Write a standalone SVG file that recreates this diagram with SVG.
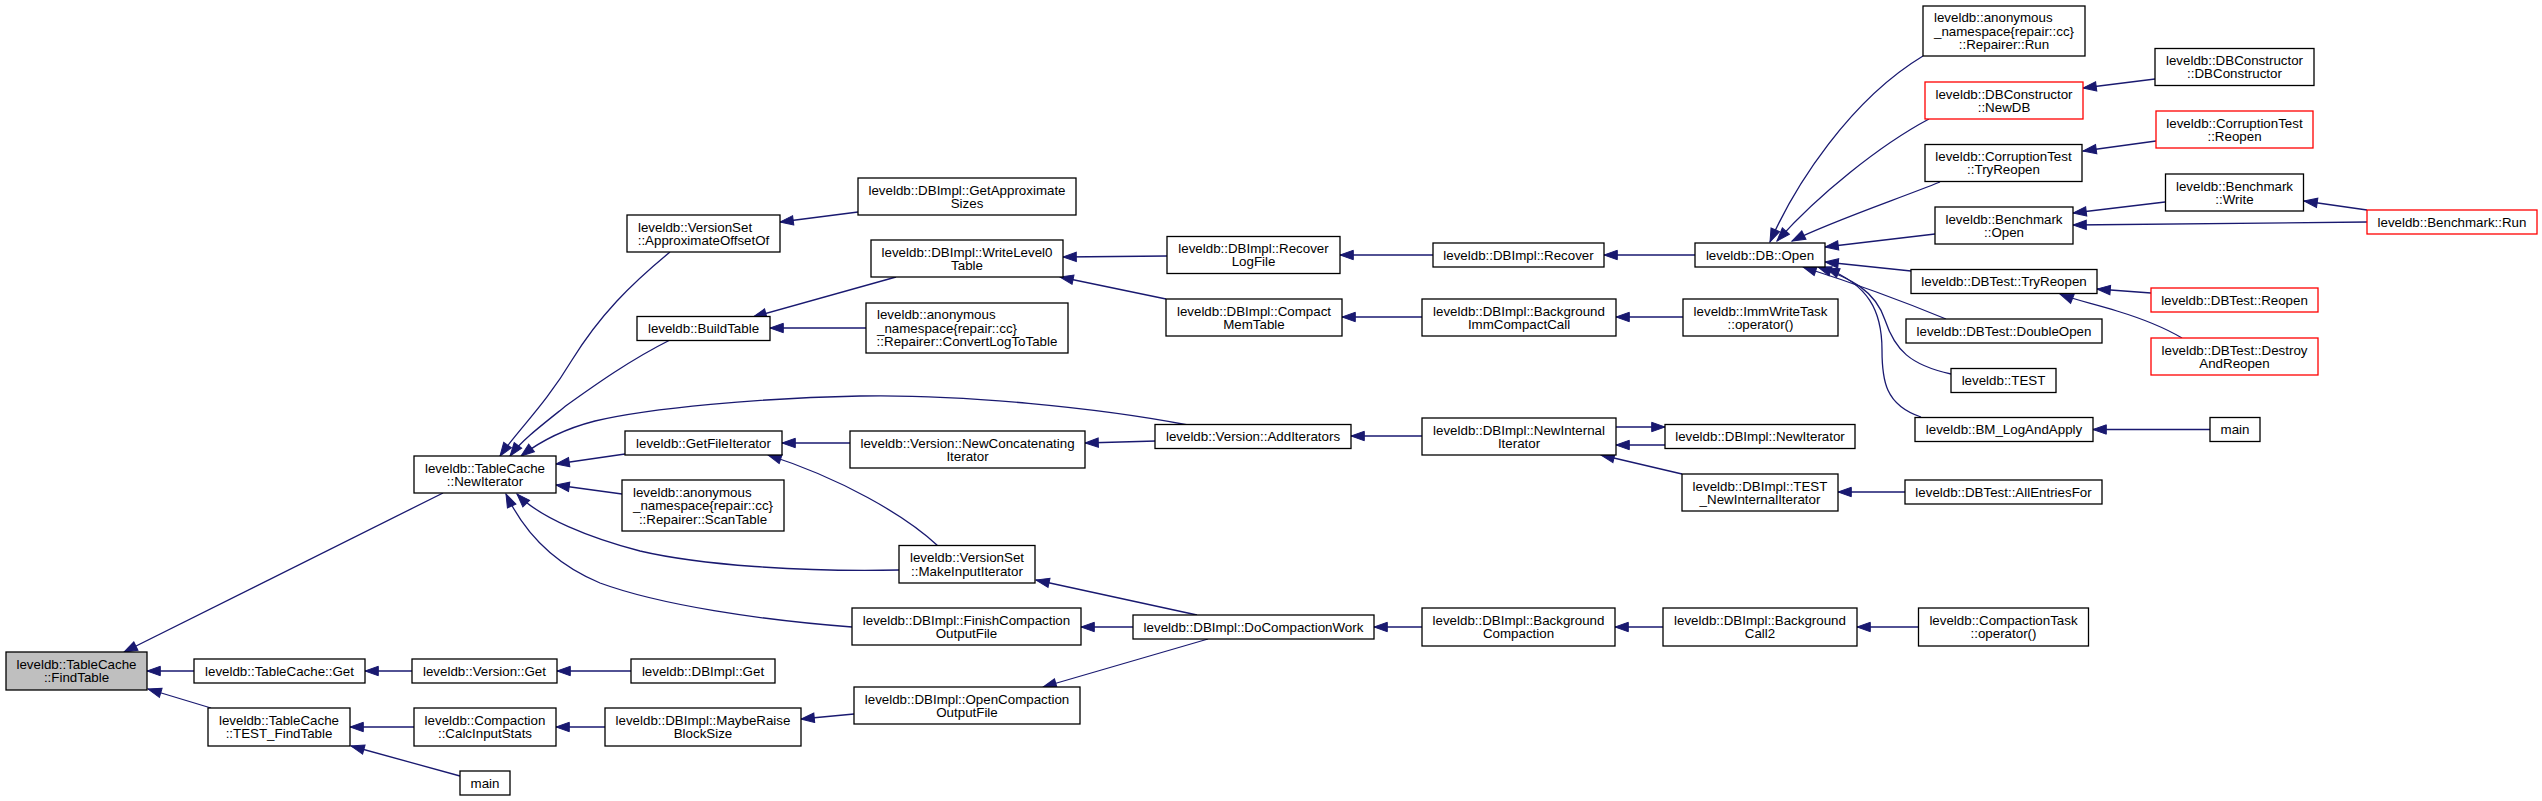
<svg xmlns="http://www.w3.org/2000/svg" width="2542" height="801" viewBox="0 0 2542 801">
<style>
.n rect{fill:#ffffff;stroke:#000000;stroke-width:1.3}
.r rect{stroke:#ff0000}
.g rect{fill:#bfbfbf}
text{font-family:"Liberation Sans",Arial,Helvetica,sans-serif;font-size:13.33px;fill:#000000;text-anchor:middle}
text.s{text-anchor:start}
#edges path{fill:none;stroke:#191970;stroke-width:1.3;marker-end:url(#ah)}
</style>
<defs>
<marker id="ah" markerUnits="userSpaceOnUse" markerWidth="14" markerHeight="10" refX="13.3" refY="4.7" orient="auto" overflow="visible">
<path d="M0,0 L13.3,4.7 L0,9.4 z" fill="#191970" stroke="#191970" stroke-width="1"/>
</marker>
</defs>
<rect width="2542" height="801" fill="#ffffff"/>
<g id="edges">
<path d="M443,493 L124,652"/>
<path d="M194,671 L147,671"/>
<path d="M211,708 L148,689"/>
<path d="M412,671 L365,671"/>
<path d="M631,671 L557,671"/>
<path d="M414,727 L350,727"/>
<path d="M460,776 L351,746"/>
<path d="M605,727 L556,727"/>
<path d="M854,714 L801,719"/>
<path d="M1208,639 L1043,687"/>
<path d="M1133,627 L1081,627"/>
<path d="M1197,615 L1036,580"/>
<path d="M1422,627 L1374,627"/>
<path d="M1663,627 L1615,627"/>
<path d="M1918,627 L1857,627"/>
<path d="M625,454 L556,464"/>
<path d="M622,494 L556,485"/>
<path d="M899,570 C800,572 700,565 640,551 C590,538 540,518 517,494"/>
<path d="M852,627 C760,620 660,605 600,583 C552,563 523,530 506,494"/>
<path d="M938,546 C905,515 840,478 768,455"/>
<path d="M850,443 L782,443"/>
<path d="M1156,441 L1085,443"/>
<path d="M1188,425 C1100,408 960,394 860,396 C760,398 650,408 595,421 C560,430 538,443 521,456"/>
<path d="M670,252 C630,285 600,315 572,360 C545,405 518,430 500,456"/>
<path d="M670,340 C630,360 595,385 567,405 C542,425 522,440 510,456"/>
<path d="M858,212 L780,222"/>
<path d="M896,277 L753,317"/>
<path d="M866,328 L770,328"/>
<path d="M1167,256 L1063,257"/>
<path d="M1166,299 L1060,277"/>
<path d="M1433,255 L1340,255"/>
<path d="M1422,317 L1342,317"/>
<path d="M1695,255 L1604,255"/>
<path d="M1683,317 L1616,317"/>
<path d="M1422,436 L1351,436"/>
<path d="M1616,427 L1665,427"/>
<path d="M1665,445 L1616,445"/>
<path d="M1682,474 L1601,455"/>
<path d="M1905,492 L1838,492"/>
<path d="M1923,56 C1850,100 1795,185 1770,242"/>
<path d="M1929,119 C1880,145 1818,195 1777,241"/>
<path d="M1940,182 C1895,200 1830,222 1792,241"/>
<path d="M1935,234 L1825,247"/>
<path d="M1911,271 L1825,262"/>
<path d="M1946,319 C1900,300 1850,282 1803,267"/>
<path d="M1951,374 C1910,365 1895,350 1885,320 C1875,290 1850,278 1818,267"/>
<path d="M1921,417 C1885,405 1882,380 1882,350 C1882,310 1868,285 1826,268"/>
<path d="M2155,79 L2083,88"/>
<path d="M2156,141 L2083,151"/>
<path d="M2165,202 L2073,213"/>
<path d="M2367,210 L2304,201"/>
<path d="M2367,222 L2073,225"/>
<path d="M2151,293 L2097,289"/>
<path d="M2182,338 C2160,325 2140,318 2117,311 C2095,304 2075,300 2060,294"/>
<path d="M2210,429.5 L2093,429.5"/>
</g>
<g id="n1" class="n g"><rect x="6" y="652" width="141" height="38"/><text x="76.5" y="669">leveldb::TableCache</text><text x="76.5" y="682.3">::FindTable</text></g>
<g id="n2" class="n"><rect x="414" y="456" width="142" height="37"/><text x="485" y="472.5">leveldb::TableCache</text><text x="485" y="485.8">::NewIterator</text></g>
<g id="n3" class="n"><rect x="194" y="659" width="171" height="24"/><text x="279.5" y="675.7">leveldb::TableCache::Get</text></g>
<g id="n4" class="n"><rect x="208" y="708" width="142" height="38"/><text x="279" y="725">leveldb::TableCache</text><text x="279" y="738.3">::TEST_FindTable</text></g>
<g id="n5" class="n"><rect x="627" y="215" width="153" height="37"/><text class="s" x="638" y="231.5">leveldb::VersionSet</text><text x="703.5" y="244.8">::ApproximateOffsetOf</text></g>
<g id="n6" class="n"><rect x="637" y="316.5" width="133" height="24"/><text x="703.5" y="333.2">leveldb::BuildTable</text></g>
<g id="n7" class="n"><rect x="625" y="431" width="157" height="24"/><text x="703.5" y="447.7">leveldb::GetFileIterator</text></g>
<g id="n8" class="n"><rect x="622" y="480" width="162" height="51"/><text class="s" x="633" y="496.8">leveldb::anonymous</text><text x="703" y="510.2">_namespace{repair::cc}</text><text x="703" y="523.5">::Repairer::ScanTable</text></g>
<g id="n9" class="n"><rect x="899" y="545.5" width="136" height="37.5"/><text x="967" y="562.2">leveldb::VersionSet</text><text x="967" y="575.5">::MakeInputIterator</text></g>
<g id="n10" class="n"><rect x="852" y="608" width="229" height="37"/><text x="966.5" y="624.5">leveldb::DBImpl::FinishCompaction</text><text x="966.5" y="637.8">OutputFile</text></g>
<g id="n11" class="n"><rect x="412" y="659" width="145" height="24"/><text x="484.5" y="675.7">leveldb::Version::Get</text></g>
<g id="n12" class="n"><rect x="414" y="708" width="142" height="38"/><text x="485" y="725">leveldb::Compaction</text><text x="485" y="738.3">::CalcInputStats</text></g>
<g id="n13" class="n"><rect x="460" y="771" width="50" height="24"/><text x="485" y="787.7">main</text></g>
<g id="n14" class="n"><rect x="631" y="659" width="144" height="24"/><text x="703" y="675.7">leveldb::DBImpl::Get</text></g>
<g id="n15" class="n"><rect x="605" y="708" width="196" height="38"/><text x="703" y="725">leveldb::DBImpl::MaybeRaise</text><text x="703" y="738.3">BlockSize</text></g>
<g id="n16" class="n"><rect x="854" y="687" width="226" height="37"/><text x="967" y="703.5">leveldb::DBImpl::OpenCompaction</text><text x="967" y="716.8">OutputFile</text></g>
<g id="n17" class="n"><rect x="858" y="178" width="218" height="37"/><text x="967" y="194.5">leveldb::DBImpl::GetApproximate</text><text x="967" y="207.8">Sizes</text></g>
<g id="n18" class="n"><rect x="871" y="240" width="192" height="37"/><text x="967" y="256.5">leveldb::DBImpl::WriteLevel0</text><text x="967" y="269.8">Table</text></g>
<g id="n19" class="n"><rect x="866" y="303" width="202" height="50"/><text class="s" x="877" y="319.3">leveldb::anonymous</text><text class="s" x="877" y="332.7">_namespace{repair::cc}</text><text x="967" y="346">::Repairer::ConvertLogToTable</text></g>
<g id="n20" class="n"><rect x="850" y="431" width="235" height="37"/><text x="967.5" y="447.5">leveldb::Version::NewConcatenating</text><text x="967.5" y="460.8">Iterator</text></g>
<g id="n21" class="n"><rect x="1133" y="615" width="241" height="24"/><text x="1253.5" y="631.7">leveldb::DBImpl::DoCompactionWork</text></g>
<g id="n22" class="n"><rect x="1167" y="236.5" width="173" height="37"/><text x="1253.5" y="253">leveldb::DBImpl::Recover</text><text x="1253.5" y="266.3">LogFile</text></g>
<g id="n23" class="n"><rect x="1166" y="299" width="176" height="37"/><text x="1254" y="315.5">leveldb::DBImpl::Compact</text><text x="1254" y="328.8">MemTable</text></g>
<g id="n24" class="n"><rect x="1155" y="424.5" width="196" height="24"/><text x="1253" y="441.2">leveldb::Version::AddIterators</text></g>
<g id="n25" class="n"><rect x="1433" y="243" width="171" height="24"/><text x="1518.5" y="259.7">leveldb::DBImpl::Recover</text></g>
<g id="n26" class="n"><rect x="1422" y="299" width="194" height="37"/><text x="1519" y="315.5">leveldb::DBImpl::Background</text><text x="1519" y="328.8">ImmCompactCall</text></g>
<g id="n27" class="n"><rect x="1422" y="418" width="194" height="37"/><text x="1519" y="434.5">leveldb::DBImpl::NewInternal</text><text x="1519" y="447.8">Iterator</text></g>
<g id="n28" class="n"><rect x="1422" y="608" width="193" height="38"/><text x="1518.5" y="625">leveldb::DBImpl::Background</text><text x="1518.5" y="638.3">Compaction</text></g>
<g id="n29" class="n"><rect x="1695" y="243" width="130" height="24"/><text x="1760" y="259.7">leveldb::DB::Open</text></g>
<g id="n30" class="n"><rect x="1683" y="299" width="155" height="37"/><text x="1760.5" y="315.5">leveldb::ImmWriteTask</text><text x="1760.5" y="328.8">::operator()</text></g>
<g id="n31" class="n"><rect x="1665" y="424.5" width="190" height="24"/><text x="1760" y="441.2">leveldb::DBImpl::NewIterator</text></g>
<g id="n32" class="n"><rect x="1682" y="474" width="156" height="37"/><text x="1760" y="490.5">leveldb::DBImpl::TEST</text><text x="1760" y="503.8">_NewInternalIterator</text></g>
<g id="n33" class="n"><rect x="1663" y="608" width="194" height="38"/><text x="1760" y="625">leveldb::DBImpl::Background</text><text x="1760" y="638.3">Call2</text></g>
<g id="n34" class="n"><rect x="1923" y="6" width="162" height="50"/><text class="s" x="1934" y="22.3">leveldb::anonymous</text><text x="2004" y="35.7">_namespace{repair::cc}</text><text x="2004" y="49">::Repairer::Run</text></g>
<g id="n35" class="n r"><rect x="1925" y="82" width="158" height="37"/><text x="2004" y="98.5">leveldb::DBConstructor</text><text x="2004" y="111.8">::NewDB</text></g>
<g id="n36" class="n"><rect x="1925" y="144.5" width="157" height="37"/><text x="2003.5" y="161">leveldb::CorruptionTest</text><text x="2003.5" y="174.3">::TryReopen</text></g>
<g id="n37" class="n"><rect x="1935" y="207" width="138" height="37"/><text x="2004" y="223.5">leveldb::Benchmark</text><text x="2004" y="236.8">::Open</text></g>
<g id="n38" class="n"><rect x="1911" y="269.5" width="186" height="24"/><text x="2004" y="286.2">leveldb::DBTest::TryReopen</text></g>
<g id="n39" class="n"><rect x="1906" y="319" width="196" height="24"/><text x="2004" y="335.7">leveldb::DBTest::DoubleOpen</text></g>
<g id="n40" class="n"><rect x="1951" y="368.5" width="105" height="24"/><text x="2003.5" y="385.2">leveldb::TEST</text></g>
<g id="n41" class="n"><rect x="1915" y="417.5" width="178" height="24"/><text x="2004" y="434.2">leveldb::BM_LogAndApply</text></g>
<g id="n42" class="n"><rect x="1905" y="480" width="197" height="24"/><text x="2003.5" y="496.7">leveldb::DBTest::AllEntriesFor</text></g>
<g id="n43" class="n"><rect x="1918.5" y="608" width="170" height="38"/><text x="2003.5" y="625">leveldb::CompactionTask</text><text x="2003.5" y="638.3">::operator()</text></g>
<g id="n44" class="n"><rect x="2155" y="48.5" width="159" height="37"/><text x="2234.5" y="65">leveldb::DBConstructor</text><text x="2234.5" y="78.3">::DBConstructor</text></g>
<g id="n45" class="n r"><rect x="2156" y="111" width="157" height="37"/><text x="2234.5" y="127.5">leveldb::CorruptionTest</text><text x="2234.5" y="140.8">::Reopen</text></g>
<g id="n46" class="n"><rect x="2165.5" y="174" width="138" height="37"/><text x="2234.5" y="190.5">leveldb::Benchmark</text><text x="2234.5" y="203.8">::Write</text></g>
<g id="n47" class="n r"><rect x="2151" y="288" width="167" height="24"/><text x="2234.5" y="304.7">leveldb::DBTest::Reopen</text></g>
<g id="n48" class="n r"><rect x="2151" y="338" width="167" height="37"/><text x="2234.5" y="354.5">leveldb::DBTest::Destroy</text><text x="2234.5" y="367.8">AndReopen</text></g>
<g id="n49" class="n"><rect x="2210" y="417.5" width="50" height="24"/><text x="2235" y="434.2">main</text></g>
<g id="n50" class="n r"><rect x="2367" y="210" width="170" height="24"/><text x="2452" y="226.7">leveldb::Benchmark::Run</text></g>
</svg>
